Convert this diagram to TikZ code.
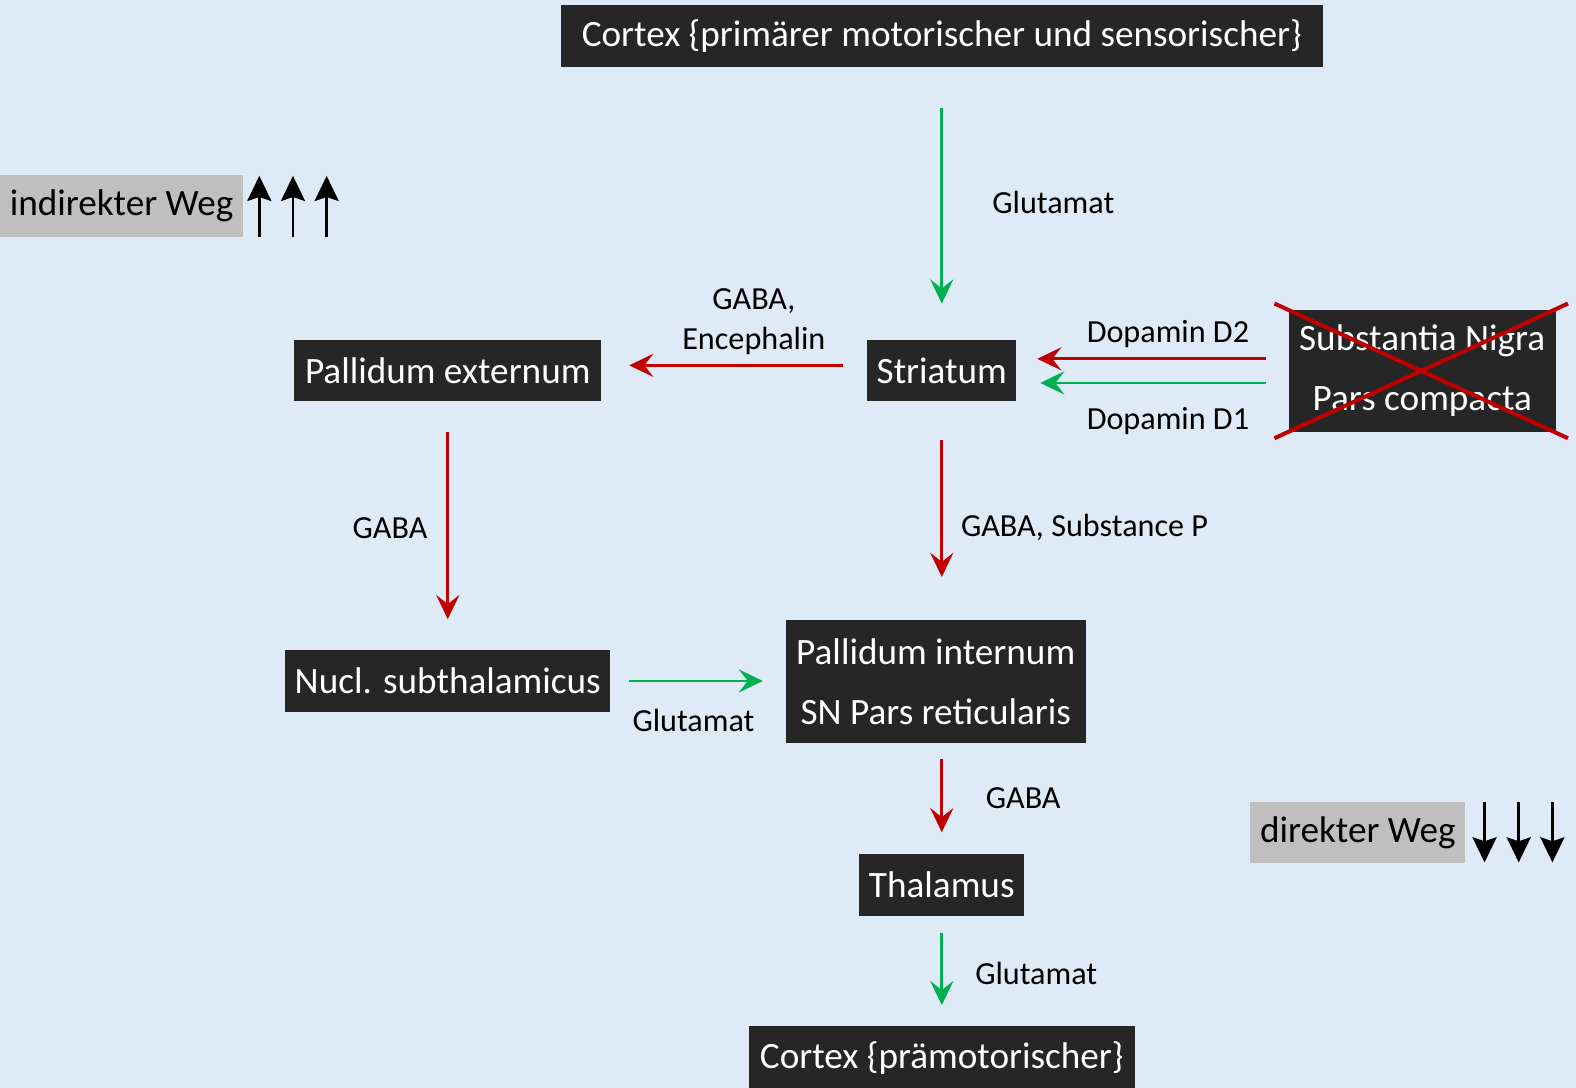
\documentclass[tikz,border=0pt]{standalone}
\usepackage{fontspec}
\setmainfont{Carlito}
\usetikzlibrary{arrows.meta}
\definecolor{bgc}{HTML}{DEEAF6}
\definecolor{boxc}{HTML}{262626}
\definecolor{grn}{HTML}{00B050}
\definecolor{rd}{HTML}{C00000}
\definecolor{gry}{HTML}{BFBFBF}
\tikzset{
  blk/.style={fill=boxc, text=white, inner sep=0pt, align=center, font=\fontsize{37}{60}\selectfont},
  lbl/.style={text=black, inner sep=0pt, align=center, font=\fontsize{32}{39}\selectfont, yshift=-2pt},
  tag/.style={fill=gry, text=black, inner sep=0pt, font=\fontsize{37}{40}\selectfont},
  con/.style={line width=2.7pt, -{Stealth[length=24pt, width=23pt, inset=9pt]}},
  gcon/.style={con, draw=grn},
  rcon/.style={con, draw=rd},
  bk/.style={line width=2.6pt, -{Stealth[length=25pt, width=24pt, inset=4pt]}}
}
\begin{document}
\begin{tikzpicture}[x=1pt, y=-1pt]
\useasboundingbox[fill=bgc] (0,0) rectangle (1568,1082);
% boxes
\node[blk, minimum width=758pt, minimum height=62pt] (ctop) at (937,36) {Cortex \{primärer motorischer und sensorischer\}};
\node[blk, minimum width=148pt, minimum height=61pt] (str) at (937,368.5) {Striatum};
\node[blk, minimum width=305pt, minimum height=61pt] (pe) at (445.5,368.5) {Pallidum externum};
\node[blk, minimum width=266pt, minimum height=122pt] (sn) at (1415,369) {Substantia Nigra\\Pars compacta};
\node[blk, minimum width=323pt, minimum height=61pt] (ns) at (445.5,677.5) {Nucl. subthalamicus};
\node[blk, minimum width=298pt, minimum height=122pt] (pi) at (931,678) {Pallidum internum\\SN Pars reticularis};
\node[blk, minimum width=164pt, minimum height=61pt] (th) at (937,880.5) {Thalamus};
\node[blk, minimum width=384pt, minimum height=64pt] (cbot) at (937,1053) {Cortex \{prämotorischer\}};
% tags
\node[tag, minimum width=242pt, minimum height=62pt] (ind) at (121,205) {indirekter Weg};
\node[tag, minimum width=214pt, minimum height=61pt] (dir) at (1351,828.5) {direkter Weg};
% red X
\draw[rd, line width=4pt] (1268,302) -- (1560,436);
\draw[rd, line width=4pt] (1268,436) -- (1560,302);
% end-point x/y references
\coordinate (xb) at (626,0);
\coordinate (xc) at (1032,0);
\coordinate (xd) at (1035,0);
\coordinate (xg) at (759,0);
\coordinate (ya) at (0,302);
\coordinate (ye) at (0,616);
\coordinate (yf) at (0,574);
\coordinate (yh) at (0,828);
\coordinate (yi) at (0,1000);
% connectors
\draw[gcon] (ctop.south) ++(0,40) coordinate (a1) -- (a1 |- ya);
\draw[rcon] (str.west) ++(-24,-5) coordinate (b1) -- (b1 -| xb);
\draw[rcon] (sn.west) ++(-22,-12) coordinate (c1) -- (c1 -| xc);
\draw[gcon] (sn.west) ++(-22,12) coordinate (d1) -- (d1 -| xd);
\draw[rcon] (pe.south) ++(0,31) coordinate (e1) -- (e1 |- ye);
\draw[rcon] (str.south) ++(0,39) coordinate (f1) -- (f1 |- yf);
\draw[gcon] (ns.east) ++(19,0) coordinate (g1) -- (g1 -| xg);
\draw[rcon] (pi.south) ++(6,16) coordinate (h1) -- (h1 |- yh);
\draw[gcon] (th.south) ++(0,17) coordinate (i1) -- (i1 |- yi);
% labels
\node[lbl] (l1) at (1048,199) {Glutamat};
\node[lbl] (l2) at (750,318) {GABA,\\Encephalin};
\node[lbl] (l3) at (1162,330) {Dopamin D2};
\node[lbl] (l4) at (1162,417) {Dopamin D1};
\node[lbl] (l5) at (388,523) {GABA};
\node[lbl] (l6) at (1079,523) {GABA, Substance P};
\node[lbl] (l7) at (690,715) {Glutamat};
\node[lbl] (l8) at (1018,792) {GABA};
\node[lbl] (l9) at (1031,966) {Glutamat};
% black arrows
\foreach \x in {258,291.5,325}{\draw[bk] (\x,236) -- (\x,175);}
\foreach \x in {1477,1511,1544.5}{\draw[bk] (\x,798) -- (\x,858);}
\end{tikzpicture}
\end{document}
